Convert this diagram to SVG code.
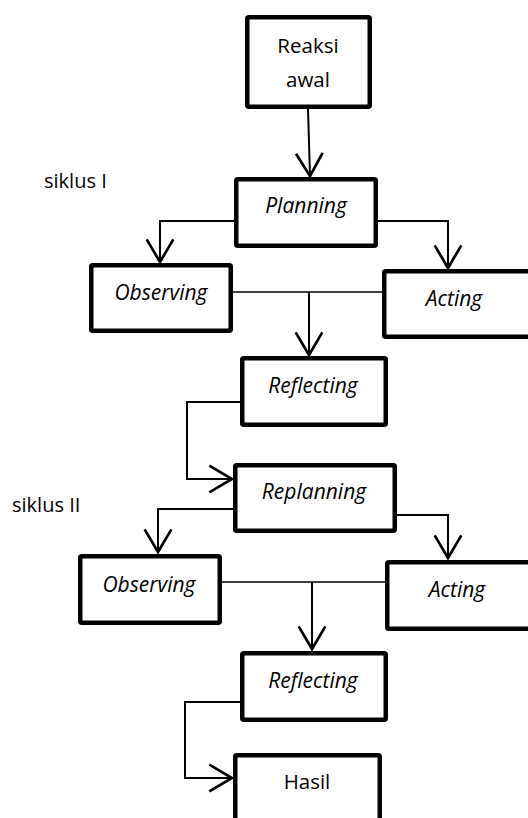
<svg xmlns="http://www.w3.org/2000/svg" width="528" height="818" viewBox="0 0 528 818">
<style>
.box{fill:#fff;stroke:#000;stroke-width:4.5;}
.t{font-family:"Open Sans","Liberation Sans",sans-serif;font-size:20.5px;fill:#000;text-anchor:middle;}
.i{font-style:italic;font-size:21px;}
.lbl{font-family:"Open Sans","Liberation Sans",sans-serif;font-size:20px;fill:#000;}
.c{fill:none;stroke:#000;stroke-width:2;}
.thin{fill:none;stroke:#000;stroke-width:1.5;}
</style>
<defs>
<marker id="ah" markerUnits="userSpaceOnUse" markerWidth="40" markerHeight="40" viewBox="-20 -15 24 30" refX="0" refY="0" orient="auto" overflow="visible">
<path d="M-17,-10 L0,0 L-17,10" fill="none" stroke="#000" stroke-width="2"/>
</marker>
</defs>
<rect width="528" height="818" fill="#fff"/>
<g id="connectors">
<path class="c" d="M308,109 L310,176" marker-end="url(#ah)"/>
<path class="c" d="M236,221 H160 V262" marker-end="url(#ah)"/>
<path class="c" d="M376,221 H448 V268" marker-end="url(#ah)"/>
<path class="thin" d="M233,292 H382"/>
<path class="c" d="M309,292 V355" marker-end="url(#ah)"/>
<path class="c" d="M242,402 H187 V479 H232" marker-end="url(#ah)"/>
<path class="c" d="M235,509 H158 V552" marker-end="url(#ah)"/>
<path class="c" d="M395,515 H448 V558" marker-end="url(#ah)"/>
<path class="thin" d="M222,582 H385"/>
<path class="c" d="M312,582 V649" marker-end="url(#ah)"/>
<path class="c" d="M242,702 H185 V778 H232" marker-end="url(#ah)"/>
</g>
<g id="reaksi">
<rect class="box" x="247.25" y="17.25" width="122.5" height="89.5" rx="1.5"/>
<text class="t" x="308" y="53">Reaksi</text>
<text class="t" x="308" y="87">awal</text>
</g>
<g id="siklus1"><text class="lbl" x="44" y="188">siklus I</text></g>
<g id="planning">
<rect class="box" x="236.25" y="179.25" width="139.5" height="66.5" rx="1.5"/>
<text class="t i" x="306" y="213">Planning</text>
</g>
<g id="observing1">
<rect class="box" x="91.25" y="265.25" width="139.5" height="65.5" rx="1.5"/>
<text class="t i" x="161" y="300">Observing</text>
</g>
<g id="acting1">
<rect class="box" x="384.25" y="271.25" width="200" height="65.5" rx="1.5"/>
<text class="t i" x="454" y="306">Acting</text>
</g>
<g id="reflecting1">
<rect class="box" x="242.25" y="358.25" width="143.5" height="66.5" rx="1.5"/>
<text class="t i" x="313" y="393">Reflecting</text>
</g>
<g id="siklus2"><text class="lbl" x="12" y="512">siklus II</text></g>
<g id="replanning">
<rect class="box" x="235.25" y="465.25" width="159.5" height="65.5" rx="1.5"/>
<text class="t i" x="314" y="499">Replanning</text>
</g>
<g id="observing2">
<rect class="box" x="80.25" y="556.25" width="139.5" height="66.5" rx="1.5"/>
<text class="t i" x="149" y="592">Observing</text>
</g>
<g id="acting2">
<rect class="box" x="387.25" y="562.25" width="200" height="66.5" rx="1.5"/>
<text class="t i" x="457" y="597">Acting</text>
</g>
<g id="reflecting2">
<rect class="box" x="242.25" y="653.25" width="143.5" height="66.5" rx="1.5"/>
<text class="t i" x="313" y="688">Reflecting</text>
</g>
<g id="hasil">
<rect class="box" x="235.25" y="755.25" width="144.5" height="100" rx="1.5"/>
<text class="t" x="307" y="789">Hasil</text>
</g>
</svg>
